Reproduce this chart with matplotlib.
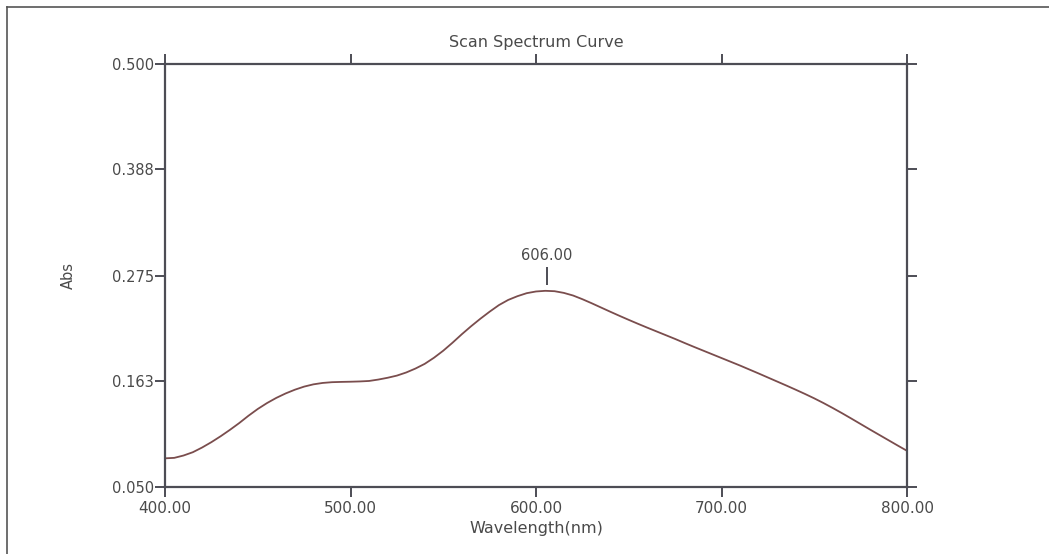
import matplotlib
matplotlib.use("Agg")
import matplotlib.pyplot as plt
from matplotlib.lines import Line2D

plt.rcParams.update({
    "font.family": "DejaVu Sans",
    "font.size": 10.5,
})

# scan data, 5 nm steps
wavelength = list(range(400, 801, 5))
absorb = [0.0805, 0.0810, 0.0835, 0.0870, 0.0920, 0.0977, 0.1040, 0.1108,
          0.1180, 0.1258, 0.1330, 0.1393, 0.1448, 0.1495, 0.1535, 0.1568,
          0.1592, 0.1607, 0.1615, 0.1618, 0.1620, 0.1623, 0.1628, 0.1643,
          0.1662, 0.1685, 0.1718, 0.1760, 0.1810, 0.1875, 0.1950, 0.2035,
          0.2125, 0.2210, 0.2290, 0.2365, 0.2435, 0.2490, 0.2530, 0.2562,
          0.2580, 0.2587, 0.2583, 0.2565, 0.2537, 0.2498, 0.2455, 0.2410,
          0.2365, 0.2321, 0.2278, 0.2236, 0.2195, 0.2155, 0.2115, 0.2075,
          0.2033, 0.1992, 0.1952, 0.1912, 0.1872, 0.1832, 0.1792, 0.1750,
          0.1708, 0.1665, 0.1622, 0.1579, 0.1535, 0.1490, 0.1443, 0.1393,
          0.1340, 0.1285, 0.1228, 0.1170, 0.1112, 0.1055, 0.0998, 0.0941,
          0.0885]

peak_wl = 606.00
peak_abs = 0.2588

x_ticks = [400, 500, 600, 700, 800]
x_labels = ["400.00", "500.00", "600.00", "700.00", "800.00"]
y_ticks = [0.050, 0.163, 0.275, 0.388, 0.500]
y_labels = ["0.050", "0.163", "0.275", "0.388", "0.500"]

TXT = "#4a4a4a"
AX = "#4d4d55"
CURVE = "#7a4d4d"

fig = plt.figure(figsize=(10.49, 5.54), dpi=100)
ax = fig.add_axes([165 / 1049, 1 - 487 / 554, 742 / 1049, 423 / 554])

ax.plot(wavelength, absorb, color=CURVE, lw=1.3)

# peak marker
ax.vlines(peak_wl, peak_abs + 0.006, peak_abs + 0.025, color=AX, lw=1.4)
ax.text(peak_wl, peak_abs + 0.029, f"{peak_wl:.2f}", ha="center", va="bottom",
        color=TXT, fontsize=10.5)

ax.set_xlim(400, 800)
ax.set_ylim(0.05, 0.5)
ax.set_xticks(x_ticks, x_labels)
ax.set_yticks(y_ticks, y_labels)
ax.tick_params(direction="out", colors=AX, labelcolor=TXT, width=1.4,
               length=7, top=True, right=True, labeltop=False, labelright=False)
ax.tick_params(axis="y", pad=1)
ax.tick_params(axis="x", pad=3, labelsize=11)
for s in ax.spines.values():
    s.set_color(AX)
    s.set_linewidth(1.6)

ax.set_title("Scan Spectrum Curve", color=TXT, fontsize=11.5, pad=12)
ax.set_xlabel("Wavelength(nm)", color=TXT, fontsize=11.5, labelpad=4)
ax.set_ylabel("Abs", color=TXT, fontsize=10.5, labelpad=26)

# scan frame (top and left edges only)
fig.add_artist(Line2D([7 / 1049, 1.0], [1 - 7 / 554, 1 - 7 / 554],
                      transform=fig.transFigure, color="#555555", lw=1.2))
fig.add_artist(Line2D([7 / 1049, 7 / 1049], [0.0, 1 - 7 / 554],
                      transform=fig.transFigure, color="#555555", lw=1.2))

fig.savefig("out.png", dpi=100)
